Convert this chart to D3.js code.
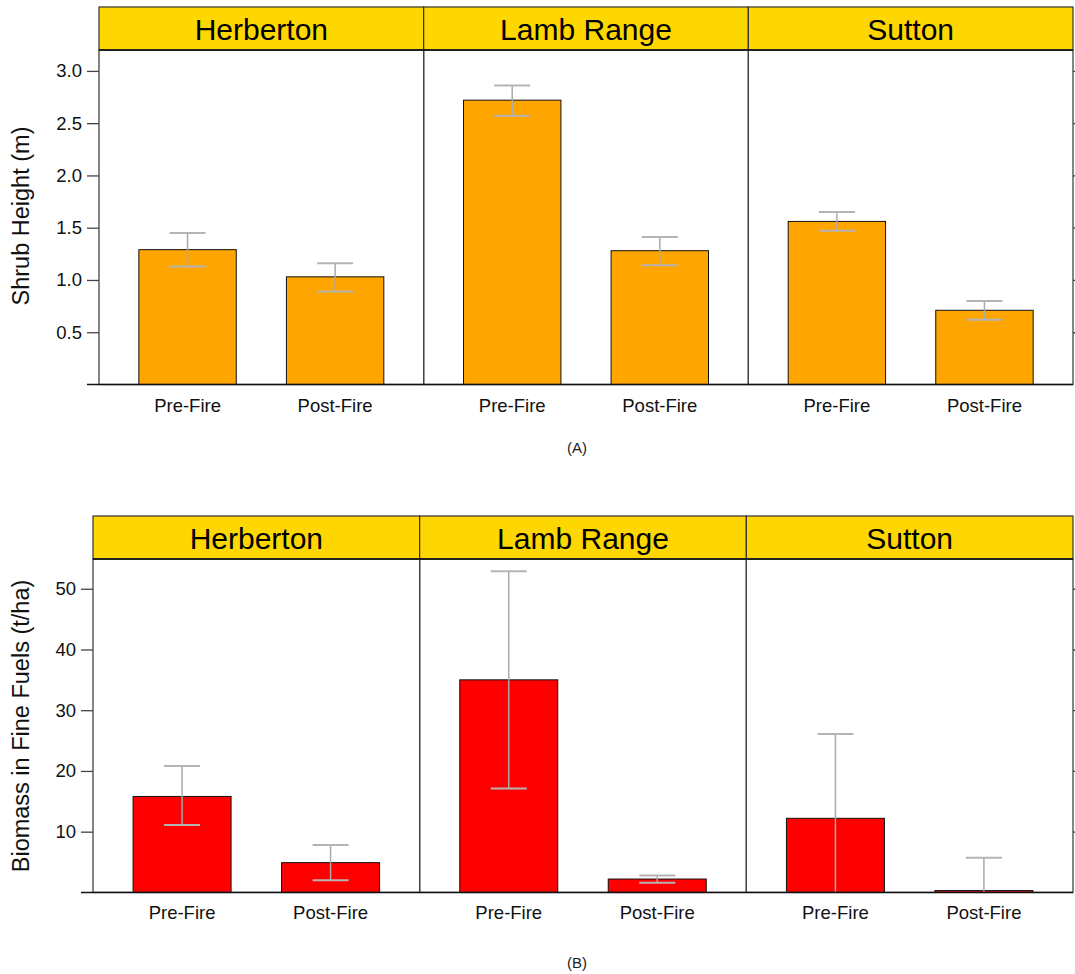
<!DOCTYPE html>
<html>
<head>
<meta charset="utf-8">
<script src="https://cdn.jsdelivr.net/npm/d3@7"></script>
<style>
  body { margin: 0; background: #fff; }
  svg { font-family: "Liberation Sans", Arial, sans-serif; }
</style>
</head>
<body>
<svg id="chart" width="1075" height="974"></svg>
<script>
var sites = ["Herberton", "Lamb Range", "Sutton"]
var periods = ["Pre-Fire", "Post-Fire"]

// shrub height (m), per site: [pre, post]
var heightMean = [[1.29, 1.03], [2.72, 1.28], [1.56, 0.71]]
var heightUpper = [[1.45, 1.16], [2.86, 1.41], [1.65, 0.80]]
var heightLower = [[1.13, 0.89], [2.57, 1.14], [1.47, 0.62]]
var heightTicks = [0.5, 1.0, 1.5, 2.0, 2.5, 3.0]

// biomass in fine fuels (t/ha)
var biomassMean = [[15.8, 4.9], [35.0, 2.2], [12.2, 0.3]]
var biomassUpper = [[20.8, 7.8], [52.9, 2.8], [26.1, 5.7]]
var biomassLower = [[11.1, 2.0], [17.1, 1.6], [-1.7, -5.1]]
var biomassTicks = [10, 20, 30, 40, 50]

var svg = d3.select("#chart")

function panelChart(opt) {
    var g = svg.append("g")
    var panelW = (opt.right - opt.left) / sites.length

    var yScale = d3.scaleLinear()
        .domain(opt.yDomain)
        .range([opt.bottom, opt.stripBottom])

    var clipId = "clip" + opt.id
    svg.append("clipPath").attr("id", clipId)
        .append("rect")
        .attr("x", opt.left).attr("y", opt.stripBottom)
        .attr("width", opt.right - opt.left).attr("height", opt.bottom - opt.stripBottom)

    sites.forEach(function (site, i) {
        var x0 = opt.left + i * panelW
        var xScale = d3.scaleLinear()
            .domain([0.4, 2.6])
            .range([x0, x0 + panelW])

        var rows = periods.map(function (p, j) {
            return { period: p, k: j + 1, mean: opt.mean[i][j], upper: opt.upper[i][j], lower: opt.lower[i][j] }
        })

        var pg = g.append("g").attr("clip-path", "url(#" + clipId + ")")

        pg.selectAll(".bar")
            .data(rows)
            .enter()
            .append("rect")
            .attr("class", "bar")
            .attr("x", d => xScale(d.k - 0.33))
            .attr("width", d => xScale(d.k + 0.33) - xScale(d.k - 0.33))
            .attr("y", d => yScale(d.mean))
            .attr("height", d => yScale(0) - yScale(d.mean))
            .attr("fill", opt.color)
            .attr("stroke", "#111")
            .attr("stroke-width", 1)

        // error bars
        pg.selectAll(".err")
            .data(rows)
            .enter()
            .append("line")
            .attr("x1", d => xScale(d.k)).attr("x2", d => xScale(d.k))
            .attr("y1", d => yScale(d.upper)).attr("y2", d => yScale(d.lower))
            .attr("stroke", "#aaaaaa").attr("stroke-width", 1.5)
        ;["upper", "lower"].forEach(function (key) {
            pg.selectAll(".cap-" + key)
                .data(rows)
                .enter()
                .append("line")
                .attr("x1", d => xScale(d.k) - 18).attr("x2", d => xScale(d.k) + 18)
                .attr("y1", d => yScale(d[key])).attr("y2", d => yScale(d[key]))
                .attr("stroke", "#b4b4b4").attr("stroke-width", 2)
        })

        // x labels
        g.selectAll(".xl" + i)
            .data(rows)
            .enter()
            .append("text")
            .attr("x", d => xScale(d.k))
            .attr("y", opt.bottom + 27)
            .attr("text-anchor", "middle")
            .style("font-size", "18.5px")
            .attr("fill", "#111")
            .text(d => d.period)

        // strip
        g.append("rect")
            .attr("x", x0).attr("y", opt.top)
            .attr("width", panelW).attr("height", opt.stripBottom - opt.top)
            .attr("fill", "#FFD700")
            .attr("stroke", "#333").attr("stroke-width", 1.2)
        g.append("text")
            .attr("x", x0 + panelW / 2)
            .attr("y", opt.top + 33)
            .attr("text-anchor", "middle")
            .style("font-size", "30px")
            .attr("fill", "#000")
            .text(site)

        // panel border
        g.append("rect")
            .attr("x", x0).attr("y", opt.stripBottom)
            .attr("width", panelW).attr("height", opt.bottom - opt.stripBottom)
            .attr("fill", "none")
            .attr("stroke", "#444").attr("stroke-width", 1.3)
    })

    // strip bottom + baseline lines
    g.append("line")
        .attr("x1", opt.left).attr("x2", opt.right)
        .attr("y1", opt.stripBottom).attr("y2", opt.stripBottom)
        .attr("stroke", "#111").attr("stroke-width", 1.5)
    g.append("line")
        .attr("x1", opt.left - 12).attr("x2", opt.right)
        .attr("y1", opt.bottom).attr("y2", opt.bottom)
        .attr("stroke", "#111").attr("stroke-width", 1.5)

    // y axes left and right
    var yAxisGen = d3.axisLeft(yScale).tickValues(opt.ticks).tickSize(12).tickPadding(5)
        .tickFormat(opt.fmt)
    var ya = g.append("g")
        .attr("transform", "translate(" + opt.left + ",0)")
        .call(yAxisGen)
    ya.select(".domain").remove()
    ya.selectAll("line").attr("stroke", "#444").attr("stroke-width", 1.3)
    ya.selectAll("text").style("font-size", "18.5px").attr("fill", "#111")

    var yr = g.append("g")
        .attr("transform", "translate(" + opt.right + ",0)")
        .call(d3.axisRight(yScale).tickValues(opt.ticks).tickSize(12).tickFormat(""))
    yr.select(".domain").remove()
    yr.selectAll("line").attr("stroke", "#444").attr("stroke-width", 1.3)

    svg.append("text")
        .attr("transform", "translate(21," + opt.labelY + ") rotate(-90)")
        .attr("text-anchor", "middle")
        .attr("dominant-baseline", "central")
        .style("font-size", "23.5px")
        .attr("fill", "#111")
        .text(opt.yLabel)

    svg.append("text")
        .attr("x", 577)
        .attr("y", opt.captionY)
        .attr("text-anchor", "middle")
        .style("font-size", "15px")
        .attr("fill", "#222")
        .text(opt.caption)
}

panelChart({
    id: "A", left: 99, right: 1073, top: 7, stripBottom: 50, bottom: 384.5,
    yDomain: [0, 3.2], ticks: heightTicks, fmt: d3.format(".1f"),
    mean: heightMean, upper: heightUpper, lower: heightLower,
    color: "#FFA500", yLabel: "Shrub Height (m)", labelY: 216, caption: "(A)", captionY: 453
})

panelChart({
    id: "B", left: 93, right: 1073, top: 516, stripBottom: 559, bottom: 892.4,
    yDomain: [0, 54.9], ticks: biomassTicks, fmt: d3.format("d"),
    mean: biomassMean, upper: biomassUpper, lower: biomassLower,
    color: "#FF0000", yLabel: "Biomass in Fine Fuels (t/ha)", labelY: 726, caption: "(B)", captionY: 968
})
</script>
</body>
</html>
